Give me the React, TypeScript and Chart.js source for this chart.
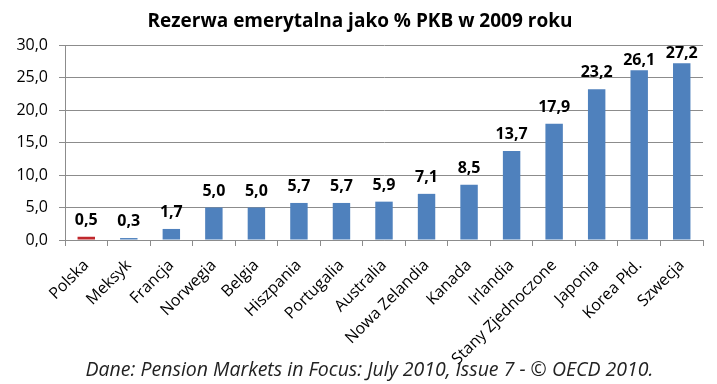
import React, { useEffect, useRef } from "react";
import { Chart, registerables } from "chart.js";

Chart.register(...registerables);

const TITLE = "Rezerwa emerytalna jako % PKB w 2009 roku";
const FOOTER = "Dane: Pension Markets in Focus: July 2010, Issue 7 - © OECD 2010.";
const countries = [
  "Polska", "Meksyk", "Francja", "Norwegia", "Belgia", "Hiszpania", "Portugalia",
  "Australia", "Nowa Zelandia", "Kanada", "Irlandia", "Stany Zjednoczone",
  "Japonia", "Korea Płd.", "Szwecja",
];
const reserves = [0.5, 0.3, 1.7, 5.0, 5.0, 5.7, 5.7, 5.9, 7.1, 8.5, 13.7, 17.9, 23.2, 26.1, 27.2];
const highlighted = ["Polska"];
const yMin = 0;
const yMax = 30;
const yStep = 5;

const FONT = "'Open Sans', sans-serif";
const BLUE = "#4F81BD";
const RED = "#C0282D";
const GRID = "#8C8C8C";

const fmt = (v: number) => v.toFixed(1).replace(".", ",");

const valueLabels = {
  id: "valueLabels",
  afterDatasetsDraw(chart: any) {
    const ctx = chart.ctx;
    const meta = chart.getDatasetMeta(0);
    const top = chart.chartArea.top;
    ctx.save();
    ctx.font = `bold 16px ${FONT}`;
    ctx.fillStyle = "#000";
    ctx.textAlign = "center";
    ctx.textBaseline = "alphabetic";
    meta.data.forEach((bar: any, i: number) => {
      const v = chart.data.datasets[0].data[i];
      const off = bar.y - 25 < top + 2 ? 5 : 12;
      ctx.fillText(fmt(v), bar.x, bar.y - off);
    });
    ctx.restore();
  },
};

export default function App() {
  const ref = useRef<HTMLCanvasElement>(null);
  useEffect(() => {
    const chart = new Chart(ref.current!, {
      type: "bar",
      data: {
        labels: countries,
        datasets: [
          {
            data: reserves,
            backgroundColor: countries.map((c) => (highlighted.includes(c) ? RED : BLUE)),
            barPercentage: 0.41,
            categoryPercentage: 1,
          },
        ],
      },
      options: {
        responsive: false,
        animation: false,
        devicePixelRatio: 1,
        layout: { padding: { left: 0, right: 14, top: 45, bottom: 0 } },
        plugins: { legend: { display: false }, tooltip: { enabled: false }, title: { display: false } },
        scales: {
          x: {
            grid: { display: true, drawOnChartArea: false, drawTicks: true, tickLength: 6, color: GRID, offset: true },
            border: { display: true, color: GRID },
            ticks: {
              minRotation: 45,
              maxRotation: 45,
              autoSkip: false,
              padding: 10,
              color: "#000",
              font: { family: FONT, size: 16 },
            },
            afterFit: (s: any) => {
              s.height = 144;
            },
          },
          y: {
            min: yMin,
            max: yMax,
            grid: { color: GRID, tickLength: 6 },
            border: { display: true, color: GRID },
            ticks: {
              stepSize: yStep,
              padding: 11,
              color: "#000",
              font: { family: FONT, size: 16 },
              callback: (v: any) => fmt(Number(v)),
            },
            afterFit: (s: any) => {
              s.width = 65;
            },
          },
        },
      },
      plugins: [valueLabels],
    });
    return () => chart.destroy();
  }, []);

  return (
    <div style={{ position: "absolute", left: 0, top: 0, width: 717, height: 384, background: "#fff" }}>
      <canvas ref={ref} width={717} height={384} style={{ position: "absolute", left: 0, top: 0 }} />
      <div
        style={{
          position: "absolute",
          left: 0,
          top: 6,
          width: 720,
          textAlign: "center",
          fontFamily: FONT,
          fontWeight: "bold",
          fontSize: 19,
          color: "#000",
          lineHeight: "28px",
        }}
      >
        {TITLE}
      </div>
      <div
        style={{
          position: "absolute",
          left: 0,
          top: 355,
          width: 739,
          textAlign: "center",
          fontFamily: FONT,
          fontStyle: "italic",
          fontSize: 19.5,
          color: "#222",
          lineHeight: "28px",
        }}
      >
        {FOOTER}
      </div>
    </div>
  );
}
